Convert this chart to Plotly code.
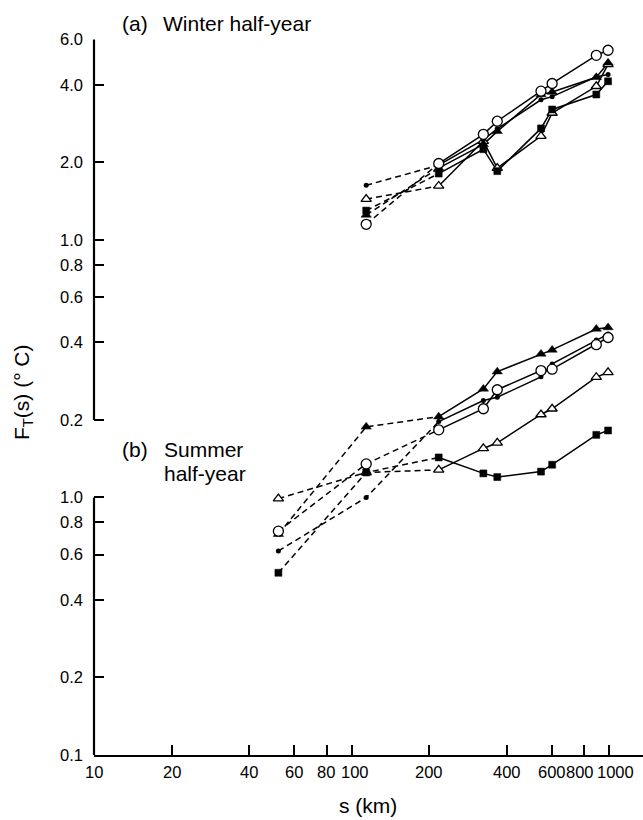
import math
import plotly.graph_objects as go

# ---------------- data ----------------
summer_s = [52, 114, 218, 325, 368, 544, 601, 892, 991]
summer_circle = [0.74, 1.35, 1.83, 2.21, 2.62, 3.11, 3.15, 3.92, 4.18]
summer_square = [0.51, 1.25, 1.43, 1.24, 1.20, 1.26, 1.34, 1.75, 1.82]
summer_otri = [0.99, 1.25, 1.28, 1.55, 1.63, 2.10, 2.21, 2.93, 3.06]
summer_ftri = [0.72, 1.88, 2.06, 2.64, 3.08, 3.61, 3.74, 4.51, 4.57]
summer_dot = [0.62, 1.00, 1.97, 2.38, 2.45, 2.94, 3.30, 4.09, 4.31]

winter_s = [114, 218, 325, 368, 544, 601, 892, 991]
winter_circle = [1.15, 1.98, 2.57, 2.89, 3.78, 4.05, 5.21, 5.45]
winter_square = [1.30, 1.81, 2.25, 1.85, 2.71, 3.21, 3.67, 4.13]
winter_otri = [1.44, 1.62, 2.42, 1.90, 2.53, 3.11, 3.95, 4.80]
winter_ftri = [1.25, 1.90, 2.35, 2.64, 3.67, 3.75, 4.28, 4.87]
winter_dot = [1.63, 1.95, 2.45, 2.70, 3.50, 3.60, 4.30, 4.39]

x_ticks = [10, 20, 40, 60, 80, 100, 200, 400, 600, 800, 1000]
x_ticktext = ["10", "20", "40", "60", "80", "100", "200", "400", "600", "800", "1000"]
lower_ticks = [0.1, 0.2, 0.4, 0.6, 0.8, 1.0]          # summer (b) scale
lower_ticktext = ["0.1", "0.2", "0.4", "0.6", "0.8", "1.0"]
upper_ticks = [0.2, 0.4, 0.6, 0.8, 1.0, 2.0, 4.0, 6.0]  # winter (a) scale
upper_ticktext = ["0.2", "0.4", "0.6", "0.8", "1.0", "2.0", "4.0", "6.0"]
SCALE_SHIFT = 10  # winter scale sits one decade below the summer scale

# ---------------- styles ----------------
FONT = "Liberation Sans, Arial, Helvetica, sans-serif"
W, H = 643, 820
L, R, T, B = 94, 0, 39, 65
x_label_nudge = [0, 0, 0, 0, -1, 3, 0, 0, 0, -4, 6]   # px, keeps crowded labels apart

markers = {
    "circle": dict(symbol="circle", size=10, color="white", line=dict(width=1.3, color="black")),
    "square": dict(symbol="square", size=7, color="black", line=dict(width=0.5, color="black")),
    "otri": dict(symbol="triangle-up", size=9, color="white", line=dict(width=1.3, color="black")),
    "ftri": dict(symbol="triangle-up", size=9, color="black", line=dict(width=0.5, color="black")),
    "dot": dict(symbol="circle", size=5, color="black", line=dict(width=0, color="black")),
}

fig = go.Figure()

def add_series(xs, ys, ndash, yaxis):
    fig.add_trace(go.Scatter(x=xs[:ndash + 1], y=ys[:ndash + 1], mode="lines",
                             line=dict(color="black", width=1.5, dash="6px,4px"),
                             yaxis=yaxis, showlegend=False, hoverinfo="skip"))
    fig.add_trace(go.Scatter(x=xs[ndash:], y=ys[ndash:], mode="lines",
                             line=dict(color="black", width=1.5),
                             yaxis=yaxis, showlegend=False, hoverinfo="skip"))

def add_markers(xs, ys, mk, yaxis):
    fig.add_trace(go.Scatter(x=xs, y=ys, mode="markers", marker=markers[mk],
                             yaxis=yaxis, showlegend=False, hoverinfo="skip", cliponaxis=False))

summer = [("otri", summer_otri), ("square", summer_square), ("dot", summer_dot),
          ("ftri", summer_ftri), ("circle", summer_circle)]
winter = [("otri", winter_otri), ("square", winter_square), ("dot", winter_dot),
          ("ftri", winter_ftri), ("circle", winter_circle)]

for mk, ys in summer:
    add_series(summer_s, ys, 2, "y")
for mk, ys in winter:
    add_series(winter_s, ys, 1, "y2")
for mk, ys in summer:
    add_markers(summer_s, ys, mk, "y")
for mk, ys in winter:
    add_markers(winter_s, ys, mk, "y2")

# ---------------- axes ----------------
top_log = math.log10(6.0 * SCALE_SHIFT) + 0.002
span = top_log - math.log10(lower_ticks[0])
x_top = 1 + (W - L - R) / ((H - T - B) / span)

tickfont = dict(family=FONT, size=16.5, color="black")
y_tickvals = lower_ticks + [v * SCALE_SHIFT for v in upper_ticks]
y_ticktext = lower_ticktext + upper_ticktext

fig.update_layout(
    width=W, height=H, autosize=False,
    margin=dict(l=L, r=R, t=T, b=B),
    paper_bgcolor="white", plot_bgcolor="white",
    xaxis=dict(type="log", range=[1, x_top], tickvals=x_ticks, showticklabels=False,
               showgrid=False, zeroline=False, showline=True, linecolor="black", linewidth=2.2,
               ticks="inside", ticklen=10, tickwidth=1.5, tickcolor="black"),
    yaxis=dict(type="log", range=[math.log10(lower_ticks[0]), top_log],
               tickvals=y_tickvals, ticktext=y_ticktext,
               showgrid=False, zeroline=False, showline=False,
               ticks="inside", ticklen=10, tickwidth=1.5, tickcolor="black", tickangle=0,
               tickfont=tickfont, ticklabelstandoff=10),
    yaxis2=dict(type="log", range=[math.log10(lower_ticks[0]) - 1, top_log - 1],
                visible=False, overlaying="y"),
    font=dict(family=FONT, color="black"),
)

# broken vertical axis line: one piece for each scale
for y0, y1 in [(lower_ticks[0], lower_ticks[-1]),
               (upper_ticks[0] * SCALE_SHIFT, upper_ticks[-1] * SCALE_SHIFT)]:
    fig.add_shape(type="line", xref="paper", yref="y", x0=0, x1=0, y0=y0, y1=y1,
                  line=dict(color="black", width=2.2), layer="above")

def px_x(p):
    return (p - L) / (W - L - R)

def px_y(p):
    return (H - B - p) / (H - T - B)

# x tick labels as text placed at the tick values
for v, txt, dx in zip(x_ticks, x_ticktext, x_label_nudge):
    fig.add_annotation(text=txt, x=math.log10(v), xref="x", y=px_y(772), yref="paper",
                       xanchor="center", yanchor="middle", xshift=dx, showarrow=False,
                       font=tickfont)

ann_font = dict(family=FONT, size=21, color="black")
annos = [
    dict(text="(a)", x=px_x(120), y=px_y(23)),
    dict(text="Winter half-year", x=px_x(161), y=px_y(23)),
    dict(text="(b)", x=px_x(120), y=px_y(449)),
    dict(text="Summer", x=px_x(162), y=px_y(449)),
    dict(text="half-year", x=px_x(162), y=px_y(473)),
]
for a in annos:
    fig.add_annotation(text=a["text"], x=a["x"], y=a["y"], xref="paper", yref="paper",
                       xanchor="left", yanchor="middle", showarrow=False, font=ann_font)

fig.add_annotation(text="F<sub>T</sub>(s) (° C)", x=px_x(23), y=px_y(392), xref="paper", yref="paper",
                   xanchor="center", yanchor="middle", textangle=-90, showarrow=False, font=ann_font)
fig.add_annotation(text="s (km)", x=px_x(368), y=px_y(805), xref="paper", yref="paper",
                   xanchor="center", yanchor="middle", showarrow=False, font=ann_font)

fig.write_html("out.html")
